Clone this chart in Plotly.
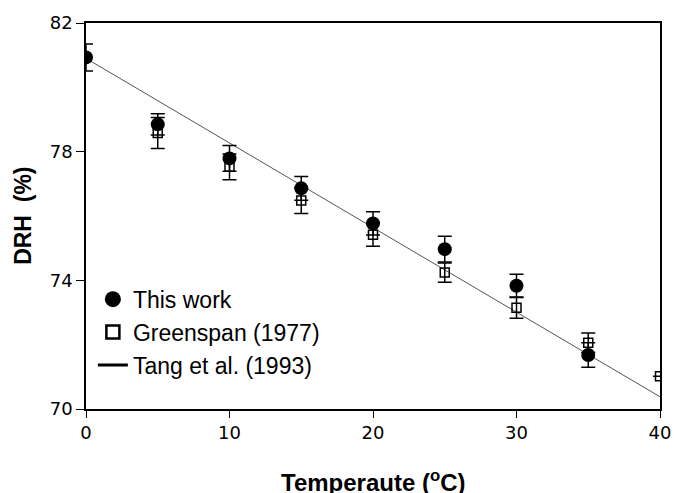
import plotly.graph_objects as go

# Data
T_this = [0, 5, 10, 15, 20, 25, 30, 35]
DRH_this = [80.93, 78.85, 77.79, 76.86, 75.77, 74.97, 73.83, 71.68]
err_this = [0.42, 0.33, 0.40, 0.37, 0.36, 0.40, 0.36, 0.38]

T_green = [5, 10, 15, 20, 25, 30, 35, 40]
DRH_green = [78.58, 77.53, 76.48, 75.42, 74.24, 73.15, 72.06, 71.02]
err_green = [0.48, 0.40, 0.40, 0.36, 0.30, 0.33, 0.30, 0.0]

T_tang = [0, 40]
DRH_tang = [80.90, 70.38]

x_ticks = [0, 10, 20, 30, 40]
y_ticks = [70, 74, 78, 82]

fig = go.Figure()

# plotted traces (legend handled by legend-only entries below)
fig.add_trace(go.Scatter(
    x=T_tang, y=DRH_tang, mode="lines", name="Tang et al. (1993)",
    line=dict(color="#555555", width=1), showlegend=False,
))
fig.add_trace(go.Scatter(
    x=T_green, y=DRH_green, mode="markers", name="Greenspan (1977)",
    marker=dict(symbol="square-open", size=9, color="black", line=dict(width=1.5, color="black")),
    error_y=dict(type="data", array=err_green, visible=True, color="black", thickness=1.5, width=7),
    showlegend=False,
))
fig.add_trace(go.Scatter(
    x=T_this, y=DRH_this, mode="markers", name="This work",
    marker=dict(symbol="circle", size=14, color="black"),
    error_y=dict(type="data", array=err_this, visible=True, color="black", thickness=1.5, width=7),
    showlegend=False,
))

# legend entries
fig.add_trace(go.Scatter(
    x=[None], y=[None], mode="markers", name="This work",
    marker=dict(symbol="circle", size=16, color="black"), legendrank=1,
))
fig.add_trace(go.Scatter(
    x=[None], y=[None], mode="markers", name="Greenspan (1977)",
    marker=dict(symbol="square-open", size=13, color="black", line=dict(width=2.5, color="black")),
    legendrank=2,
))
fig.add_trace(go.Scatter(
    x=[None], y=[None], mode="lines", name="Tang et al. (1993)",
    line=dict(color="black", width=3), legendrank=3,
))

fig.update_layout(
    width=683, height=493,
    margin=dict(l=86, r=15, t=17, b=84),
    paper_bgcolor="white", plot_bgcolor="white",
    font=dict(family="Liberation Sans, Arial, sans-serif", color="black"),
    showlegend=True,
    legend=dict(
        x=0.012, y=0.34, xanchor="left", yanchor="top",
        bgcolor="rgba(0,0,0,0)", font=dict(size=23, family="Liberation Sans, Arial"),
        itemwidth=30, tracegroupgap=0,
    ),
    xaxis=dict(
        range=[0, 40], tickvals=x_ticks, ticktext=[str(v) for v in x_ticks],
        showline=True, linecolor="black", linewidth=1.5, mirror=True,
        ticks="outside", ticklen=7, tickwidth=1, tickcolor="black",
        showgrid=False, zeroline=False,
        tickfont=dict(size=18, family="DejaVu Sans"),
    ),
    yaxis=dict(
        range=[70, 82], tickvals=y_ticks, ticktext=[str(v) for v in y_ticks],
        showline=True, linecolor="black", linewidth=1.5, mirror=True,
        ticks="outside", ticklen=8, tickwidth=1, tickcolor="black",
        showgrid=False, zeroline=False,
        tickfont=dict(size=18, family="DejaVu Sans"),
    ),
    annotations=[
        dict(text="<b>DRH  (%)</b>", xref="paper", yref="paper", x=-0.11, y=0.5,
             textangle=-90, showarrow=False, font=dict(size=23, family="Liberation Sans, Arial"),
             xanchor="center", yanchor="middle"),
        dict(text="<b>Temperaute (<sup>o</sup>C)</b>", xref="paper", yref="paper", x=0.5, y=-0.143,
             showarrow=False, font=dict(size=24, family="Liberation Sans, Arial"),
             xanchor="center", yanchor="top"),
    ],
)

fig.write_html("out.html")
